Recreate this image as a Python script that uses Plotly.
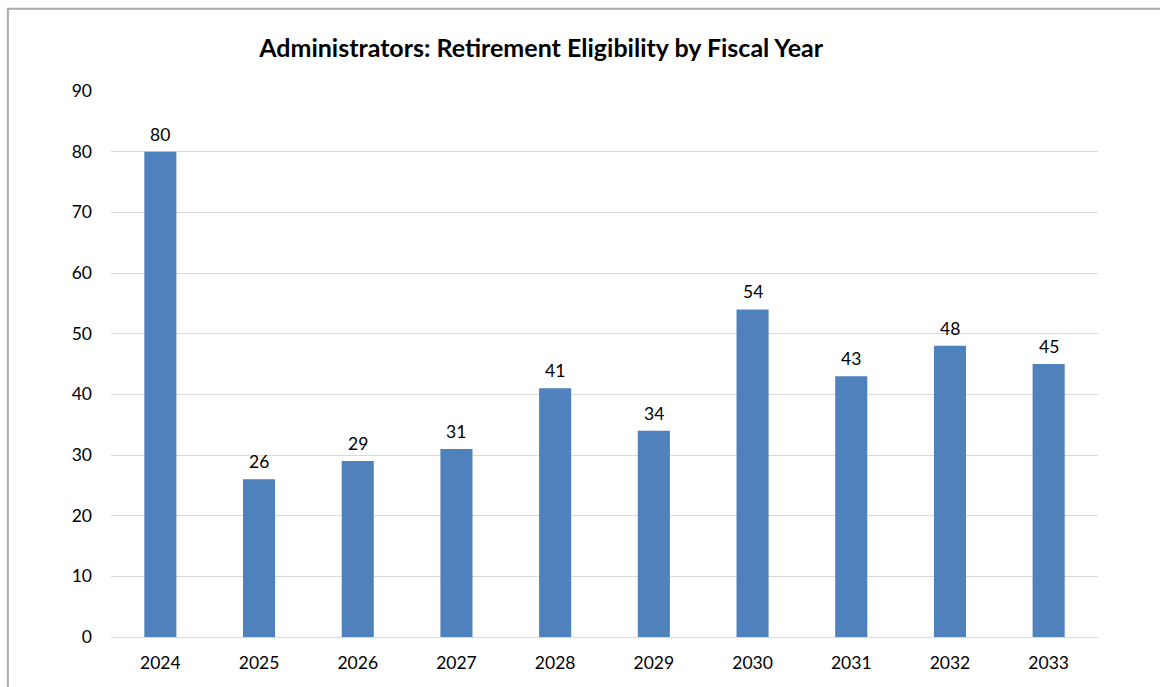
import plotly.graph_objects as go

years = ["2024", "2025", "2026", "2027", "2028", "2029", "2030", "2031", "2032", "2033"]
counts = [80, 26, 29, 31, 41, 34, 54, 43, 48, 45]
y_ticks = [0, 10, 20, 30, 40, 50, 60, 70, 80, 90]

FONT = "Lato, Open Sans, sans-serif"

fig = go.Figure(go.Bar(
    x=years, y=counts,
    marker=dict(color="#4F81BD", line=dict(width=0)),
))

# category axis: annotation x given as category index
for i, v in enumerate(counts):
    fig.add_annotation(x=i, y=v, text=str(v), showarrow=False,
                       yanchor="bottom", yshift=5,
                       font=dict(size=17.5, color="#000000", family=FONT))

fig.update_layout(
    width=1160, height=687,
    margin=dict(l=111, r=62, t=91, b=50),
    paper_bgcolor="white", plot_bgcolor="white",
    bargap=0.675,
    showlegend=False,
    title=dict(text="<b>Administrators: Retirement Eligibility by Fiscal Year</b>",
               x=0.4665, xanchor="center", y=0.930, yanchor="middle",
               font=dict(size=25, color="#000000", family=FONT)),
    font=dict(family=FONT, size=17.5, color="#000000"),
    xaxis=dict(type="category", categoryorder="array", categoryarray=years,
               range=[-0.5, len(years) - 0.5],
               showgrid=False, showline=True, linecolor="#D9D9D9", linewidth=1,
               tickfont=dict(size=17.5), ticks="outside", ticklen=10,
               tickcolor="rgba(255,255,255,0)"),
    yaxis=dict(range=[0, 90], tickvals=y_ticks, showgrid=True, gridcolor="#D9D9D9",
               gridwidth=1, zeroline=False, tickfont=dict(size=17.5), ticks="",
               ticklabelstandoff=18),
    shapes=[dict(type="rect", xref="paper", yref="paper",
                 x0=-0.1045, x1=1.2, y0=-0.2, y1=1.1505,
                 line=dict(color="#ABABAB", width=2), fillcolor="rgba(0,0,0,0)", layer="below")],
)

fig.write_html("out.html")
